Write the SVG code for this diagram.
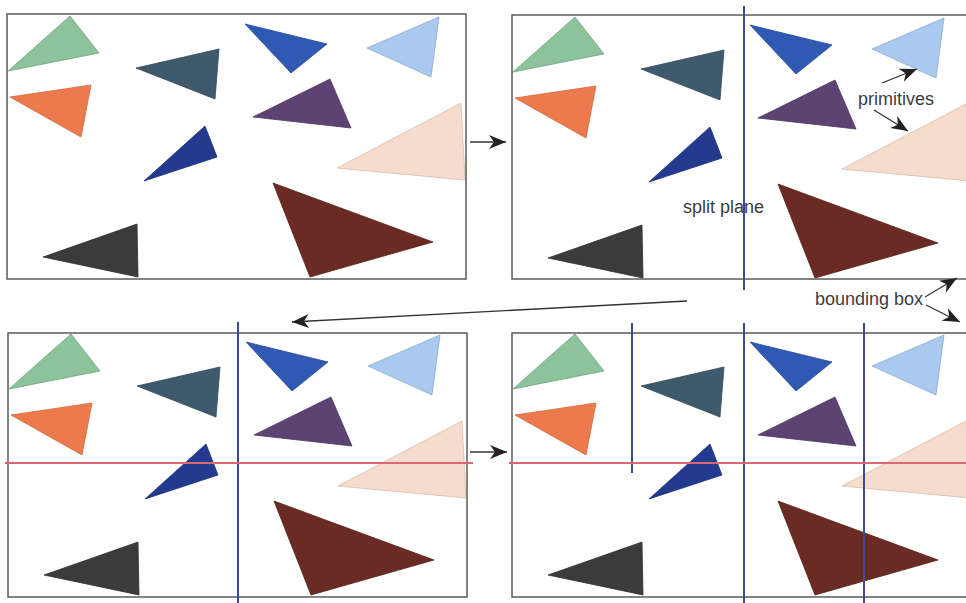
<svg xmlns="http://www.w3.org/2000/svg" xmlns:xlink="http://www.w3.org/1999/xlink" width="966" height="603" viewBox="0 0 966 603">
<style>
.box{fill:none;stroke:#5a5a5a;stroke-width:1.5}
.split{stroke:#3b4a99;stroke-width:2}
.red{stroke:#d96870;stroke-width:2}
.conn{stroke:#333;stroke-width:1.3;fill:none}
.lbl{font-family:"Liberation Sans",Arial,sans-serif;font-size:18px;fill:#3c3c3c}
.t{stroke-width:0.8;stroke-linejoin:round}
</style>
<defs>
<marker id="ah" markerUnits="userSpaceOnUse" markerWidth="18" markerHeight="14" viewBox="0 0 18 14" refX="17" refY="7" orient="auto">
<path d="M0,0 L17,7 L0,14 L5,7 Z" fill="#222"/>
</marker>
<g id="prims">
<polygon class="t" points="70,16 99,53 8,71" fill="#8cc39a" stroke="#72a380"/>
<polygon class="t" points="136,68 219,49 215,99" fill="#3e5a6c" stroke="#33495a"/>
<polygon class="t" points="245,24 327,44 291,73" fill="#3059b4" stroke="#264a96"/>
<polygon class="t" points="367,48 439,17 431,77" fill="#a9c9ee" stroke="#8aa8cc"/>
<polygon class="t" points="10,97 91,85 81,137" fill="#ec7a4c" stroke="#cf6a40"/>
<polygon class="t" points="253,117 330,79 351,128" fill="#5c4373" stroke="#4c375f"/>
<polygon class="t" points="144,181 205,126 217,157" fill="#233a8e" stroke="#1c2f74"/>
<polygon class="t" points="337,168 461,103 465,180" fill="#f6dccd" stroke="#d8bcad"/>
<polygon class="t" points="273,183 433,242 310,277" fill="#6a2b24" stroke="#57231e"/>
<polygon class="t" points="43,257 137,224 138,277" fill="#3b3b3b" stroke="#2e2e2e"/>
</g>
</defs>
<rect width="966" height="603" fill="#fff"/>

<g id="panel1">
<use xlink:href="#prims" href="#prims"/>
<rect class="box" x="7" y="14" width="459" height="265"/>
</g>

<g id="panel2">
<use xlink:href="#prims" href="#prims" transform="translate(505,1)"/>
<rect class="box" x="512" y="15" width="470" height="264"/>
<line class="split" x1="744" y1="6" x2="744" y2="290"/>
<text class="lbl" x="683" y="213">split plane</text>
<text class="lbl" x="858" y="105">primitives</text>
<text class="lbl" x="815" y="305">bounding box</text>
</g>

<g id="panel3">
<use xlink:href="#prims" href="#prims" transform="translate(1,318)"/>
<rect class="box" x="8" y="333" width="459" height="264"/>
<line class="split" x1="238" y1="322" x2="238" y2="603"/>
<line class="red" x1="5" y1="463" x2="473" y2="463"/>
</g>

<g id="panel4">
<use xlink:href="#prims" href="#prims" transform="translate(505,318)"/>
<rect class="box" x="512" y="333" width="470" height="264"/>
<line class="split" x1="632" y1="323" x2="632" y2="473"/>
<line class="split" x1="744" y1="323" x2="744" y2="603"/>
<line class="split" x1="864" y1="323" x2="864" y2="603"/>
<line class="red" x1="509" y1="463" x2="966" y2="463"/>
</g>

<g id="connectors">
<line class="conn" x1="470" y1="142" x2="506" y2="142" marker-end="url(#ah)"/>
<line class="conn" x1="687" y1="301" x2="292" y2="322" marker-end="url(#ah)"/>
<line class="conn" x1="470" y1="452" x2="507" y2="452" marker-end="url(#ah)"/>
<line class="conn" x1="882" y1="83" x2="917" y2="69" marker-end="url(#ah)"/>
<line class="conn" x1="874" y1="110" x2="908" y2="131" marker-end="url(#ah)"/>
<line class="conn" x1="925" y1="297" x2="957" y2="278" marker-end="url(#ah)"/>
<line class="conn" x1="926" y1="305" x2="960" y2="322" marker-end="url(#ah)"/>
</g>
</svg>
